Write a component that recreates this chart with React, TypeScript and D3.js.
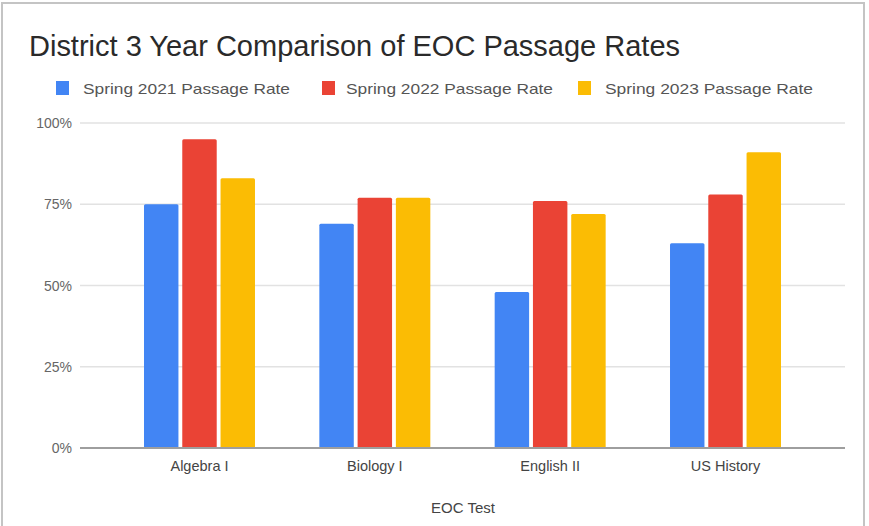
import React from "react";
import * as d3 from "d3";

const categories = ["Algebra I", "Biology I", "English II", "US History"];
const seriesNames = [
  "Spring 2021 Passage Rate",
  "Spring 2022 Passage Rate",
  "Spring 2023 Passage Rate",
];
const spring2021 = [75, 69, 48, 63];
const spring2022 = [95, 77, 76, 78];
const spring2023 = [83, 77, 72, 91];
const yTicks = [0, 25, 50, 75, 100];
const colors = ["#4285F4", "#EA4335", "#FBBC04"];

const W = 869;
const H = 526;
const FONT = "'Liberation Sans', Arial, sans-serif";

export default function App() {
  const seriesValues = [spring2021, spring2022, spring2023];
  const x0 = d3
    .scaleBand<string>()
    .domain(categories)
    .range([80, 845])
    .paddingInner(0.367)
    .paddingOuter(0.365);
  const x1 = d3
    .scaleBand<string>()
    .domain(seriesNames)
    .range([0, x0.bandwidth()])
    .paddingInner(0.1)
    .paddingOuter(0);
  const y = d3.scaleLinear().domain([0, 100]).range([448, 123]);

  const legendX = [56, 322, 578];
  const legendTextX = [83, 346, 605];
  const legendTextW = [207, 207, 208];

  return (
    <div style={{ position: "absolute", left: 0, top: 0 }}>
      <svg width={W} height={H} style={{ display: "block", background: "#fff" }}>
        <rect x={0} y={0} width={W} height={H} fill="#fff" />
        <rect x={2} y={3} width={862} height={540} fill="none" stroke="#c4c4c4" strokeWidth={2} />
        <text
          x={29}
          y={56}
          fontFamily={FONT}
          fontSize={30}
          fill="#2a2a2a"
          textLength={651}
          lengthAdjust="spacingAndGlyphs"
        >
          District 3 Year Comparison of EOC Passage Rates
        </text>
        {seriesNames.map((s, i) => (
          <g key={s}>
            <rect x={legendX[i]} y={81} width={13} height={14} fill={colors[i]} />
            <text
              x={legendTextX[i]}
              y={93.5}
              fontFamily={FONT}
              fontSize={15}
              fill="#555"
              textLength={legendTextW[i]}
              lengthAdjust="spacingAndGlyphs"
            >
              {s}
            </text>
          </g>
        ))}
        {yTicks.map((t) => (
          <g key={t}>
            {t !== 0 && (
              <line x1={80} x2={845} y1={y(t)} y2={y(t)} stroke="#e2e2e2" strokeWidth={1.5} />
            )}
            <text
              x={72}
              y={y(t) + 5}
              textAnchor="end"
              fontFamily={FONT}
              fontSize={14}
              fill="#666"
            >
              {t}%
            </text>
          </g>
        ))}
        {categories.map((c, ci) => (
          <g key={c} transform={`translate(${x0(c)},0)`}>
            {seriesNames.map((s, si) => {
              const v = seriesValues[si][ci];
              return (
                <rect
                  key={s}
                  x={x1(s)}
                  y={y(v)}
                  width={x1.bandwidth()}
                  height={y(0) - y(v)}
                  fill={colors[si]}
                  rx={1.5}
                />
              );
            })}
          </g>
        ))}
        <line x1={80} x2={845} y1={y(0)} y2={y(0)} stroke="#9e9e9e" strokeWidth={2} />
        {categories.map((c) => {
          const cx = (x0(c) as number) + x0.bandwidth() / 2;
          return (
            <text
              key={c}
              x={cx}
              y={471}
              textAnchor="middle"
              fontFamily={FONT}
              fontSize={14.5}
              fill="#444"
            >
              {c}
            </text>
          );
        })}
        <text
          x={463}
          y={513}
          textAnchor="middle"
          fontFamily={FONT}
          fontSize={15}
          fill="#444"
        >
          EOC Test
        </text>
      </svg>
    </div>
  );
}
